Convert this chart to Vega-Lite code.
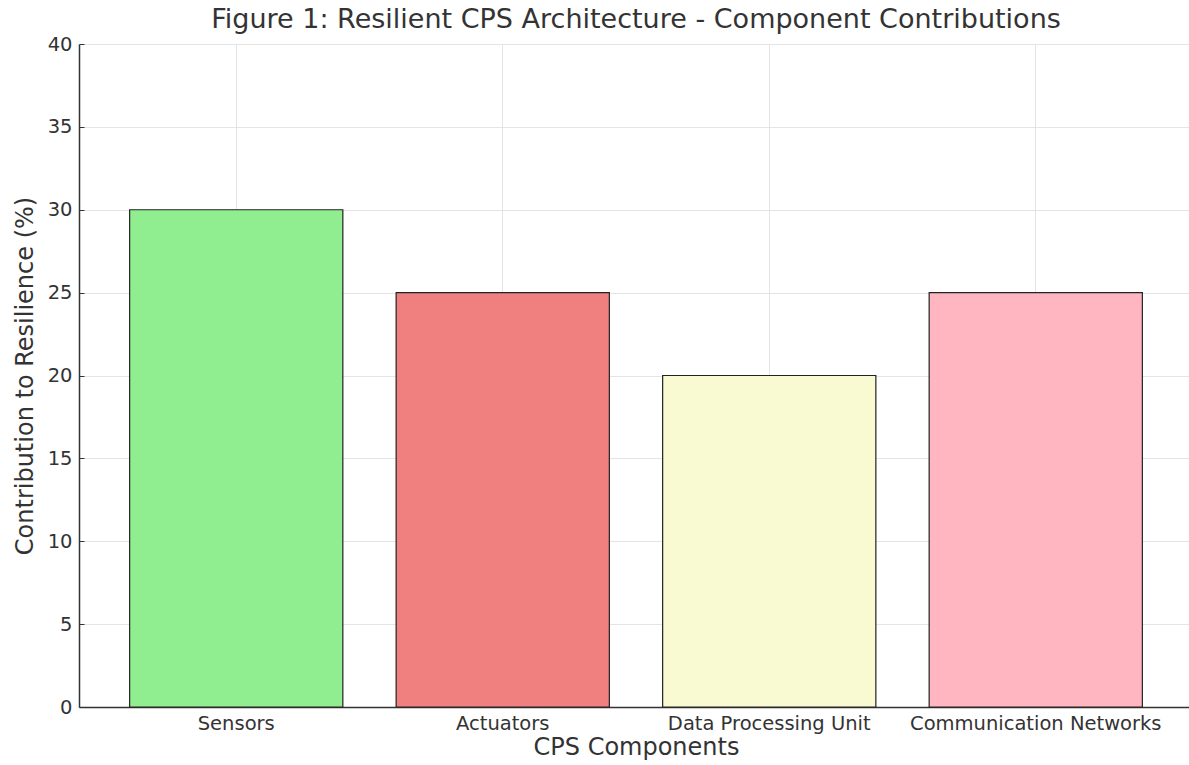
{
  "$schema": "https://vega.github.io/schema/vega-lite/v6.json",
  "autosize": "none",
  "width": 1114,
  "height": 663,
  "padding": {"left": 79, "top": 44, "right": 0, "bottom": 58},
  "background": "white",
  "title": {
    "text": "Figure 1: Resilient CPS Architecture - Component Contributions",
    "font": "DejaVu Sans",
    "fontSize": 27,
    "fontWeight": "normal",
    "color": "#333333",
    "anchor": "middle",
    "offset": 0
  },
  "data": {
    "values": [
      {"component": "Sensors", "value": 30},
      {"component": "Actuators", "value": 25},
      {"component": "Data Processing Unit", "value": 20},
      {"component": "Communication Networks", "value": 25}
    ]
  },
  "config": {
    "view": {"stroke": null},
    "axis": {
      "labelFont": "DejaVu Sans",
      "titleFont": "DejaVu Sans",
      "labelFontSize": 19.5,
      "titleFontSize": 24,
      "titleFontWeight": "normal",
      "labelColor": "#333333",
      "titleColor": "#333333",
      "domainColor": "#333333",
      "domainWidth": 1.5,
      "tickColor": "#333333",
      "tickSize": -5,
      "labelLimit": 0,
      "gridColor": "#dddddd",
      "gridOpacity": 0.8,
      "zindex": 1
    }
  },
  "mark": {"type": "bar", "stroke": "#222222", "strokeWidth": 1.2},
  "encoding": {
    "x": {
      "field": "component",
      "type": "nominal",
      "sort": null,
      "title": "CPS Components",
      "scale": {"paddingInner": 0.2, "paddingOuter": 0.19},
      "axis": {"labelAngle": 0, "grid": true, "labelPadding": 12, "titlePadding": 3}
    },
    "y": {
      "field": "value",
      "type": "quantitative",
      "title": "Contribution to Resilience (%)",
      "scale": {"domain": [0, 40]},
      "axis": {"values": [0, 5, 10, 15, 20, 25, 30, 35, 40], "labelPadding": 12, "titlePadding": 10}
    },
    "color": {
      "field": "component",
      "type": "nominal",
      "scale": {
        "domain": ["Sensors", "Actuators", "Data Processing Unit", "Communication Networks"],
        "range": ["#90EE90", "#F08080", "#FAFAD2", "#FFB6C1"]
      },
      "legend": null
    }
  }
}
